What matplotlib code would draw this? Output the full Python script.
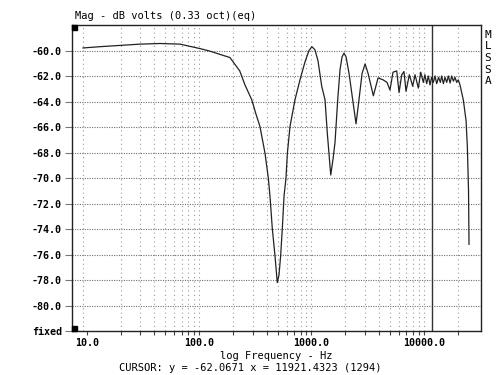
import numpy as np
import matplotlib.pyplot as plt
from matplotlib.patches import Rectangle

# frequency response (Hz, dB)
freq = [9.27, 13.1, 19.8, 29.8, 44.9, 67.6, 102, 125, 153, 188, 230, 256, 294, 321,
        348, 386, 413, 428, 448, 473, 496, 514, 532, 550, 570, 593, 610, 644, 713,
        790, 875, 950, 1009, 1074, 1142, 1233, 1319, 1383, 1483, 1555, 1619, 1711,
        1794, 1870, 1947, 2029, 2158, 2295, 2490, 2650, 2818, 2997, 3188, 3550,
        3910, 4330, 4700, 4990, 5310, 5730, 6010, 6350, 6650, 6930, 7420, 7950,
        8340, 8920, 9370, 9880, 10200, 10590, 10950, 11330, 11700, 12130, 12550,
        13000, 13500, 14000, 14400, 14900, 15400, 15950, 16500, 17100, 17660,
        18300, 18900, 19570, 20200, 20950, 22440, 23710, 24340, 24940, 25190]
mag = [-59.8, -59.7, -59.6, -59.5, -59.45, -59.5, -59.85, -60.05, -60.3, -60.55,
       -61.6, -62.7, -63.86, -65.0, -65.96, -68.06, -70.0, -71.5, -73.96, -76.06,
       -78.2, -77.6, -76.06, -73.96, -71.4, -70.0, -68.06, -65.96, -63.86, -62.3,
       -60.9, -60.0, -59.7, -59.95, -60.8, -62.8, -63.86, -66.5, -69.76, -68.5,
       -67.2, -63.86, -61.5, -60.5, -60.2, -60.5, -61.8, -63.5, -65.75, -63.8,
       -61.8, -61.05, -61.8, -63.55, -62.15, -62.3, -62.5, -63.1, -61.7, -61.6,
       -63.3, -61.9, -61.65, -63.2, -61.9, -62.8, -61.9, -62.95, -61.7, -62.5,
       -61.9, -62.6, -62.0, -62.7, -62.1, -62.5, -62.0, -62.6, -62.1, -62.5,
       -62.0, -62.6, -62.1, -62.5, -62.0, -62.55, -62.0, -62.4, -62.1, -62.5,
       -62.3, -62.7, -63.9, -65.5, -67.5, -71.0, -75.2]

cursor_x = 11921.4323
ytick_vals = [-60, -62, -64, -66, -68, -70, -72, -74, -76, -78, -80]
xtick_major = [10, 100, 1000, 10000]
xtick_minor = [m * d for d in [10, 100, 1000] for m in range(2, 10)] + [20000]
grid_x = [9.27] + [m * d for d in [10, 100, 1000] for m in range(1, 10)][1:] + [10000, 20000]

mono = 'DejaVu Sans Mono'
fig = plt.figure(figsize=(5, 3.75), dpi=100)
ax = fig.add_axes([0.1434, 0.1173, 0.8186, 0.816])

for g in grid_x:
    ax.axvline(g, color='#9a9a9a', lw=0.8, ls=(0, (1, 3)), zorder=1)
for g in ytick_vals:
    ax.axhline(g, color='#707070', lw=0.8, ls=(0, (1, 1.2)), zorder=1)

ax.plot(freq, mag, color='#222222', lw=0.9, zorder=3)
ax.axvline(cursor_x, color='#333333', lw=1.0, zorder=2)

ax.set_xscale('log')
ax.set_xlim(7.36, 32200)
ax.set_ylim(-82, -58)

ax.set_xticks(xtick_major)
ax.set_xticklabels(['10.0', '100.0', '1000.0', '10000.0'])
ax.set_xticks(xtick_minor, minor=True)
ax.xaxis.set_minor_formatter(plt.NullFormatter())
ax.tick_params(axis='x', which='both', direction='out', length=3, width=0.8,
               color='#444444', pad=2)
ax.set_yticks(ytick_vals + [-82])
ax.set_yticklabels(['%.1f' % v for v in ytick_vals] + ['fixed'])
ax.tick_params(axis='y', direction='out', length=5, width=0.8, color='#777777', pad=2)
for lab in ax.get_xticklabels() + ax.get_yticklabels():
    lab.set_fontfamily(mono)
    lab.set_fontweight('bold')
    lab.set_fontsize(7.2)

for s in ax.spines.values():
    s.set_linewidth(1.0)
    s.set_color('#222222')

# small filled squares in left corners
ax.add_patch(Rectangle((0, 1 - 0.0163), 0.0122, 0.0163, transform=ax.transAxes,
                       color='black', zorder=5, clip_on=False))
ax.add_patch(Rectangle((0, 0), 0.0122, 0.0163, transform=ax.transAxes,
                       color='black', zorder=5, clip_on=False))

fig.text(75 / 500, 1 - 16 / 375, 'Mag - dB volts (0.33 oct)(eq)', family=mono,
         fontsize=7.5, va='center', ha='left')
fig.text(488 / 500, 1 - 58 / 375, 'M\nL\nS\nS\nA', family=mono, fontsize=8,
         va='center', ha='center', linespacing=1.2)
fig.text(276 / 500, 1 - 356 / 375, 'log Frequency - Hz', family=mono,
         fontsize=7.5, va='center', ha='center')
fig.text(250 / 500, 1 - 368 / 375, 'CURSOR: y = -62.0671 x = 11921.4323 (1294)',
         family=mono, fontsize=7.5, va='center', ha='center')

fig.savefig('out.png', dpi=100)
